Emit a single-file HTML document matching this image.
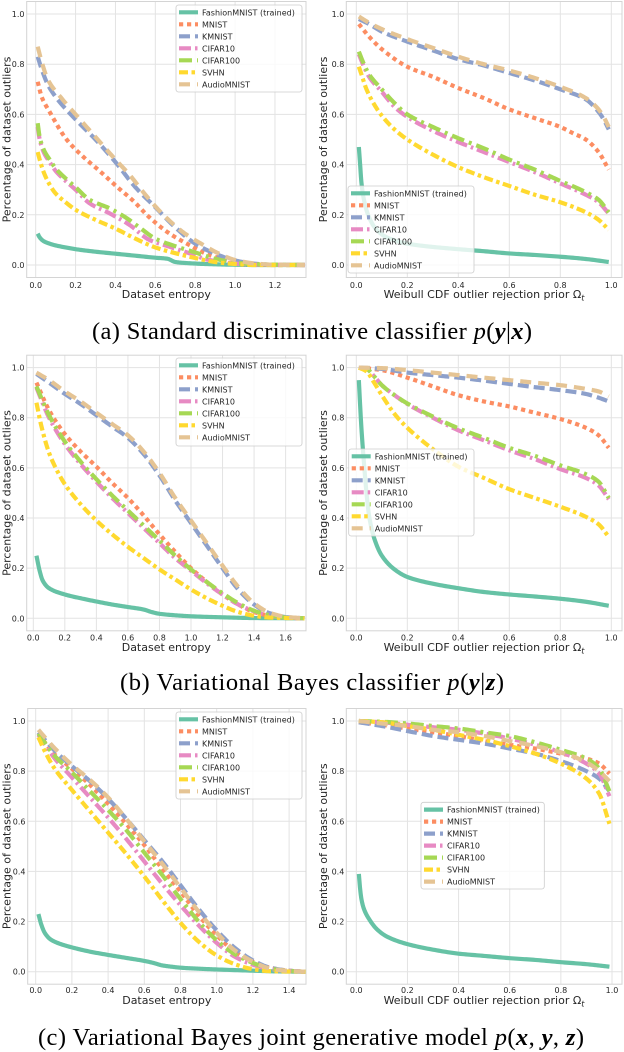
<!DOCTYPE html>
<html><head><meta charset="utf-8">
<style>
html,body{margin:0;padding:0;background:#fff;}
svg{display:block;}
.tk{font-family:"DejaVu Sans","Liberation Sans",sans-serif;font-size:8px;fill:#262626;}
.lb{font-family:"DejaVu Sans","Liberation Sans",sans-serif;font-size:11px;fill:#262626;}
.lg{font-family:"DejaVu Sans","Liberation Sans",sans-serif;font-size:8px;fill:#262626;}
.cap{font-family:"Liberation Serif",serif;font-size:24.5px;fill:#000;}
</style></head>
<body>
<svg id="s" width="624" height="1052" viewBox="0 0 624 1052" xmlns="http://www.w3.org/2000/svg">
<rect x="0" y="0" width="624" height="1052" fill="#fff"/>
<g id="grids" stroke="#e3e3e3" stroke-width="1" fill="none"></g>
<g id="curves"></g>
<g id="legends"></g>

<!-- Panel A left -->
<g class="tk" text-anchor="end">
<text x="24.5" y="17">1.0</text><text x="24.5" y="67.2">0.8</text><text x="24.5" y="117.4">0.6</text><text x="24.5" y="167.6">0.4</text><text x="24.5" y="217.8">0.2</text><text x="24.5" y="268">0.0</text>
</g>
<g class="tk" text-anchor="middle">
<text x="35.7" y="288">0.0</text><text x="75.6" y="288">0.2</text><text x="115.5" y="288">0.4</text><text x="155.3" y="288">0.6</text><text x="195.2" y="288">0.8</text><text x="235.1" y="288">1.0</text><text x="275" y="288">1.2</text>
</g>
<text class="lb" x="166.3" y="298" text-anchor="middle">Dataset entropy</text>
<text class="lb" transform="translate(7,139.5) rotate(-90)" text-anchor="middle" dominant-baseline="central">Percentage of dataset outliers</text>

<!-- Panel A right -->
<g class="tk" text-anchor="end">
<text x="344.3" y="17">1.0</text><text x="344.3" y="67.2">0.8</text><text x="344.3" y="117.4">0.6</text><text x="344.3" y="167.6">0.4</text><text x="344.3" y="217.8">0.2</text><text x="344.3" y="268">0.0</text>
</g>
<g class="tk" text-anchor="middle">
<text x="356.3" y="288">0.0</text><text x="407.3" y="288">0.2</text><text x="458.3" y="288">0.4</text><text x="509.3" y="288">0.6</text><text x="560.3" y="288">0.8</text><text x="611.3" y="288">1.0</text>
</g>
<text class="lb" x="484" y="298" text-anchor="middle">Weibull CDF outlier rejection prior Ω<tspan font-style="italic" font-size="8" dy="2.5">t</tspan></text>
<text class="lb" transform="translate(323.7,139.5) rotate(-90)" text-anchor="middle" dominant-baseline="central">Percentage of dataset outliers</text>

<text class="cap" x="312" y="339" text-anchor="middle" textLength="440" lengthAdjust="spacing">(a) Standard discriminative classifier <tspan font-style="italic">p</tspan>(<tspan font-style="italic" font-weight="bold">y</tspan>|<tspan font-style="italic" font-weight="bold">x</tspan>)</text>

<!-- Panel B left -->
<g class="tk" text-anchor="end">
<text x="24.5" y="370.6">1.0</text><text x="24.5" y="420.7">0.8</text><text x="24.5" y="470.9">0.6</text><text x="24.5" y="521">0.4</text><text x="24.5" y="571.2">0.2</text><text x="24.5" y="621.3">0.0</text>
</g>
<g class="tk" text-anchor="middle">
<text x="33.3" y="640.5">0.0</text><text x="64.8" y="640.5">0.2</text><text x="96.4" y="640.5">0.4</text><text x="127.9" y="640.5">0.6</text><text x="159.5" y="640.5">0.8</text><text x="191" y="640.5">1.0</text><text x="222.5" y="640.5">1.2</text><text x="254.1" y="640.5">1.4</text><text x="285.6" y="640.5">1.6</text>
</g>
<text class="lb" x="166.3" y="651" text-anchor="middle">Dataset entropy</text>
<text class="lb" transform="translate(7,493) rotate(-90)" text-anchor="middle" dominant-baseline="central">Percentage of dataset outliers</text>

<!-- Panel B right -->
<g class="tk" text-anchor="end">
<text x="344.3" y="370.6">1.0</text><text x="344.3" y="420.7">0.8</text><text x="344.3" y="470.9">0.6</text><text x="344.3" y="521">0.4</text><text x="344.3" y="571.2">0.2</text><text x="344.3" y="621.3">0.0</text>
</g>
<g class="tk" text-anchor="middle">
<text x="356.3" y="640.5">0.0</text><text x="407.3" y="640.5">0.2</text><text x="458.3" y="640.5">0.4</text><text x="509.3" y="640.5">0.6</text><text x="560.3" y="640.5">0.8</text><text x="611.3" y="640.5">1.0</text>
</g>
<text class="lb" x="484" y="651" text-anchor="middle">Weibull CDF outlier rejection prior Ω<tspan font-style="italic" font-size="8" dy="2.5">t</tspan></text>
<text class="lb" transform="translate(323.7,493) rotate(-90)" text-anchor="middle" dominant-baseline="central">Percentage of dataset outliers</text>

<text class="cap" x="312" y="690" text-anchor="middle" textLength="384" lengthAdjust="spacing">(b) Variational Bayes classifier <tspan font-style="italic">p</tspan>(<tspan font-style="italic" font-weight="bold">y</tspan>|<tspan font-style="italic" font-weight="bold">z</tspan>)</text>

<!-- Panel C left -->
<g class="tk" text-anchor="end">
<text x="25.5" y="724">1.0</text><text x="25.5" y="774.1">0.8</text><text x="25.5" y="824.3">0.6</text><text x="25.5" y="874.4">0.4</text><text x="25.5" y="924.6">0.2</text><text x="25.5" y="974.7">0.0</text>
</g>
<g class="tk" text-anchor="middle">
<text x="35.7" y="993">0.0</text><text x="71.9" y="993">0.2</text><text x="108.1" y="993">0.4</text><text x="144.3" y="993">0.6</text><text x="180.5" y="993">0.8</text><text x="216.7" y="993">1.0</text><text x="252.9" y="993">1.2</text><text x="289.1" y="993">1.4</text>
</g>
<text class="lb" x="166.8" y="1004" text-anchor="middle">Dataset entropy</text>
<text class="lb" transform="translate(7,846.3) rotate(-90)" text-anchor="middle" dominant-baseline="central">Percentage of dataset outliers</text>

<!-- Panel C right -->
<g class="tk" text-anchor="end">
<text x="344.3" y="724">1.0</text><text x="344.3" y="774.1">0.8</text><text x="344.3" y="824.3">0.6</text><text x="344.3" y="874.4">0.4</text><text x="344.3" y="924.6">0.2</text><text x="344.3" y="974.7">0.0</text>
</g>
<g class="tk" text-anchor="middle">
<text x="356.3" y="993">0.0</text><text x="407.4" y="993">0.2</text><text x="458.6" y="993">0.4</text><text x="509.7" y="993">0.6</text><text x="560.9" y="993">0.8</text><text x="612" y="993">1.0</text>
</g>
<text class="lb" x="484" y="1004" text-anchor="middle">Weibull CDF outlier rejection prior Ω<tspan font-style="italic" font-size="8" dy="2.5">t</tspan></text>
<text class="lb" transform="translate(323.7,846.3) rotate(-90)" text-anchor="middle" dominant-baseline="central">Percentage of dataset outliers</text>

<text class="cap" x="311" y="1045" text-anchor="middle" textLength="546" lengthAdjust="spacing">(c) Variational Bayes joint generative model <tspan font-style="italic">p</tspan>(<tspan font-style="italic" font-weight="bold">x</tspan>, <tspan font-style="italic" font-weight="bold">y</tspan>, <tspan font-style="italic" font-weight="bold">z</tspan>)</text>

<!-- Legends -->
<g class="lg">
<text x="202" y="15.3">FashionMNIST (trained)</text><text x="202" y="27.3">MNIST</text><text x="202" y="39.3">KMNIST</text><text x="202" y="51.3">CIFAR10</text><text x="202" y="63.3">CIFAR100</text><text x="202" y="75.3">SVHN</text><text x="202" y="87.3">AudioMNIST</text>
</g>
<g class="lg">
<text x="374" y="196.3">FashionMNIST (trained)</text><text x="374" y="208.3">MNIST</text><text x="374" y="220.3">KMNIST</text><text x="374" y="232.3">CIFAR10</text><text x="374" y="244.3">CIFAR100</text><text x="374" y="256.3">SVHN</text><text x="374" y="268.3">AudioMNIST</text>
</g>
<g class="lg">
<text x="202" y="368.3">FashionMNIST (trained)</text><text x="202" y="380.3">MNIST</text><text x="202" y="392.3">KMNIST</text><text x="202" y="404.3">CIFAR10</text><text x="202" y="416.3">CIFAR100</text><text x="202" y="428.3">SVHN</text><text x="202" y="440.3">AudioMNIST</text>
</g>
<g class="lg">
<text x="374.7" y="459.3">FashionMNIST (trained)</text><text x="374.7" y="471.3">MNIST</text><text x="374.7" y="483.3">KMNIST</text><text x="374.7" y="495.3">CIFAR10</text><text x="374.7" y="507.3">CIFAR100</text><text x="374.7" y="519.3">SVHN</text><text x="374.7" y="531.3">AudioMNIST</text>
</g>
<g class="lg">
<text x="202" y="722.3">FashionMNIST (trained)</text><text x="202" y="734.3">MNIST</text><text x="202" y="746.3">KMNIST</text><text x="202" y="758.3">CIFAR10</text><text x="202" y="770.3">CIFAR100</text><text x="202" y="782.3">SVHN</text><text x="202" y="794.3">AudioMNIST</text>
</g>
<g class="lg">
<text x="447" y="812.6">FashionMNIST (trained)</text><text x="447" y="824.6">MNIST</text><text x="447" y="836.6">KMNIST</text><text x="447" y="848.6">CIFAR10</text><text x="447" y="860.6">CIFAR100</text><text x="447" y="872.6">SVHN</text><text x="447" y="884.6">AudioMNIST</text>
</g>
</svg>
<script>
(function(){
var NS='http://www.w3.org/2000/svg';
var grids=document.getElementById('grids');
var curves=document.getElementById('curves');
var legends=document.getElementById('legends');
var COL=['#66c2a5','#fc8d62','#8da0cb','#e78ac3','#a6d854','#ffd92f','#e5c494'];
var DASH=[null,'4.2 3.8','11 5','12 4 2.5 4','13 5 3 5','9 3.5 3.5 3.5','11 7'];
var LW=4.2;
function el(tag,attrs,parent){var e=document.createElementNS(NS,tag);for(var k in attrs)e.setAttribute(k,attrs[k]);parent.appendChild(e);return e;}

function mono(xs,ys){
  var n=xs.length,d=[],m=[];
  for(var i=0;i<n-1;i++)d.push((ys[i+1]-ys[i])/(xs[i+1]-xs[i]));
  m[0]=d[0];m[n-1]=d[n-2];
  for(i=1;i<n-1;i++){
    if(d[i-1]*d[i]<=0)m[i]=0;
    else{var h0=xs[i]-xs[i-1],h1=xs[i+1]-xs[i];var w1=2*h1+h0,w2=h1+2*h0;m[i]=(w1+w2)/(w1/d[i-1]+w2/d[i]);}
  }
  if(d[0]===0)m[0]=0; if(d[n-2]===0)m[n-1]=0;
  return function(i,t){var h=xs[i+1]-xs[i];var t2=t*t,t3=t2*t;
    return (2*t3-3*t2+1)*ys[i]+(t3-2*t2+t)*h*m[i]+(-2*t3+3*t2)*ys[i+1]+(t3-t2)*h*m[i+1];};
}

var P=[
 {L:26.7,T:1.5,R:306,B:277.5,x0:35.7,xs:199.4,y0:265,ys:251,xt:[0,0.2,0.4,0.6,0.8,1.0,1.2],leg:[176,5,126,87],
  d:[
   [[0.01,0.125],[0.02,0.11],[0.04,0.095],[0.07,0.085],[0.1,0.078],[0.15,0.07],[0.2,0.063],[0.3,0.053],[0.4,0.045],[0.5,0.037],[0.6,0.029],[0.66,0.025],[0.7,0.012],[0.75,0.008],[0.85,0.004],[1.0,0.001],[1.1,0],[1.35,0]],
   [[0.01,0.73],[0.03,0.67],[0.07,0.61],[0.155,0.50],[0.24,0.43],[0.32,0.375],[0.41,0.31],[0.49,0.255],[0.57,0.19],[0.67,0.126],[0.77,0.08],[0.87,0.04],[0.97,0.018],[1.07,0.005],[1.2,0],[1.35,0]],
   [[0.01,0.83],[0.03,0.78],[0.06,0.72],[0.1,0.67],[0.2,0.58],[0.3,0.50],[0.4,0.41],[0.5,0.31],[0.6,0.23],[0.7,0.15],[0.8,0.085],[0.9,0.045],[1.0,0.018],[1.1,0.005],[1.2,0.001],[1.35,0]],
   [[0.01,0.55],[0.02,0.5],[0.04,0.45],[0.07,0.41],[0.1,0.375],[0.15,0.335],[0.2,0.30],[0.27,0.246],[0.37,0.206],[0.47,0.16],[0.57,0.1],[0.67,0.073],[0.77,0.047],[0.87,0.02],[1.0,0.006],[1.1,0.001],[1.35,0]],
   [[0.01,0.565],[0.02,0.51],[0.04,0.46],[0.07,0.42],[0.1,0.385],[0.15,0.345],[0.2,0.31],[0.27,0.26],[0.37,0.226],[0.45,0.19],[0.52,0.15],[0.6,0.105],[0.7,0.075],[0.8,0.05],[0.9,0.025],[1.0,0.01],[1.1,0.003],[1.35,0]],
   [[0.01,0.45],[0.02,0.42],[0.04,0.37],[0.07,0.32],[0.1,0.285],[0.15,0.25],[0.2,0.22],[0.3,0.18],[0.4,0.145],[0.5,0.105],[0.6,0.07],[0.7,0.047],[0.8,0.028],[0.9,0.012],[1.0,0.004],[1.1,0],[1.35,0]],
   [[0.01,0.87],[0.03,0.81],[0.06,0.74],[0.13,0.664],[0.2,0.60],[0.3,0.51],[0.4,0.42],[0.47,0.36],[0.55,0.28],[0.64,0.20],[0.74,0.13],[0.84,0.08],[0.92,0.045],[1.0,0.02],[1.1,0.006],[1.2,0.001],[1.35,0]]
  ]},
 {L:346.3,T:1.5,R:622,B:277.5,x0:356.3,xs:255,y0:265,ys:251,xt:[0,0.2,0.4,0.6,0.8,1.0],leg:[348,186,126,87],
  d:[
   [[0.01,0.47],[0.015,0.40],[0.02,0.33],[0.03,0.26],[0.05,0.19],[0.08,0.14],[0.12,0.11],[0.2,0.085],[0.3,0.072],[0.4,0.063],[0.5,0.055],[0.6,0.046],[0.7,0.04],[0.8,0.033],[0.9,0.024],[0.99,0.012]],
   [[0.01,0.96],[0.05,0.91],[0.1,0.86],[0.2,0.79],[0.3,0.75],[0.4,0.705],[0.5,0.665],[0.6,0.62],[0.7,0.585],[0.8,0.55],[0.85,0.525],[0.9,0.5],[0.95,0.45],[0.99,0.38]],
   [[0.01,0.98],[0.05,0.96],[0.1,0.93],[0.2,0.89],[0.3,0.855],[0.4,0.82],[0.5,0.795],[0.6,0.765],[0.7,0.735],[0.8,0.70],[0.9,0.66],[0.95,0.61],[0.97,0.58],[0.99,0.54]],
   [[0.01,0.84],[0.03,0.79],[0.05,0.75],[0.1,0.69],[0.15,0.63],[0.2,0.59],[0.3,0.535],[0.4,0.49],[0.5,0.45],[0.6,0.41],[0.7,0.37],[0.8,0.325],[0.9,0.28],[0.95,0.25],[0.99,0.205]],
   [[0.01,0.85],[0.03,0.80],[0.05,0.76],[0.1,0.70],[0.15,0.645],[0.2,0.60],[0.3,0.55],[0.4,0.505],[0.5,0.465],[0.6,0.42],[0.7,0.38],[0.8,0.335],[0.9,0.29],[0.95,0.26],[0.99,0.21]],
   [[0.01,0.79],[0.02,0.76],[0.04,0.70],[0.07,0.64],[0.1,0.595],[0.15,0.54],[0.2,0.50],[0.3,0.44],[0.4,0.39],[0.5,0.35],[0.6,0.315],[0.7,0.28],[0.8,0.25],[0.9,0.21],[0.95,0.18],[0.99,0.14]],
   [[0.01,0.99],[0.05,0.965],[0.1,0.94],[0.2,0.90],[0.3,0.865],[0.4,0.83],[0.5,0.80],[0.6,0.775],[0.7,0.745],[0.8,0.71],[0.9,0.665],[0.95,0.62],[0.97,0.59],[0.99,0.55]]
  ]},
 {L:26.7,T:355.2,R:306,B:630.8,x0:33.3,xs:157.7,y0:618.3,ys:250.7,xt:[0,0.2,0.4,0.6,0.8,1.0,1.2,1.4,1.6],leg:[176,358,126,88],
  d:[
   [[0.02,0.25],[0.04,0.19],[0.06,0.15],[0.1,0.12],[0.2,0.095],[0.3,0.08],[0.4,0.067],[0.5,0.055],[0.6,0.045],[0.7,0.035],[0.75,0.025],[0.8,0.018],[0.9,0.012],[1.0,0.008],[1.2,0.004],[1.4,0.001],[1.72,0]],
   [[0.02,0.94],[0.1,0.83],[0.2,0.735],[0.3,0.665],[0.4,0.605],[0.5,0.54],[0.6,0.48],[0.7,0.41],[0.8,0.335],[0.9,0.265],[1.0,0.2],[1.1,0.145],[1.2,0.095],[1.3,0.055],[1.4,0.025],[1.5,0.01],[1.6,0.003],[1.72,0]],
   [[0.02,0.975],[0.1,0.94],[0.2,0.895],[0.3,0.855],[0.4,0.81],[0.5,0.765],[0.6,0.72],[0.7,0.655],[0.8,0.57],[0.9,0.47],[1.0,0.38],[1.1,0.29],[1.2,0.2],[1.3,0.115],[1.4,0.055],[1.5,0.02],[1.6,0.005],[1.72,0]],
   [[0.02,0.92],[0.1,0.8],[0.2,0.695],[0.3,0.615],[0.4,0.545],[0.5,0.48],[0.6,0.42],[0.7,0.36],[0.8,0.3],[0.9,0.24],[1.0,0.19],[1.1,0.14],[1.2,0.095],[1.3,0.055],[1.4,0.028],[1.5,0.01],[1.6,0.002],[1.72,0]],
   [[0.02,0.925],[0.1,0.81],[0.2,0.705],[0.3,0.625],[0.4,0.555],[0.5,0.49],[0.6,0.43],[0.7,0.37],[0.8,0.31],[0.9,0.25],[1.0,0.195],[1.1,0.145],[1.2,0.1],[1.3,0.06],[1.4,0.03],[1.5,0.012],[1.6,0.003],[1.72,0]],
   [[0.02,0.86],[0.05,0.77],[0.1,0.66],[0.15,0.59],[0.2,0.535],[0.3,0.455],[0.4,0.39],[0.5,0.335],[0.6,0.285],[0.7,0.24],[0.8,0.195],[0.9,0.155],[1.0,0.115],[1.1,0.08],[1.2,0.05],[1.3,0.025],[1.4,0.01],[1.5,0.003],[1.72,0]],
   [[0.02,0.98],[0.1,0.95],[0.2,0.905],[0.3,0.865],[0.4,0.82],[0.5,0.775],[0.6,0.73],[0.7,0.665],[0.8,0.58],[0.9,0.48],[1.0,0.39],[1.1,0.3],[1.2,0.21],[1.3,0.125],[1.4,0.06],[1.5,0.022],[1.6,0.006],[1.72,0]]
  ]},
 {L:346.3,T:355.2,R:622,B:630.8,x0:356.3,xs:255,y0:618.3,ys:250.7,xt:[0,0.2,0.4,0.6,0.8,1.0],leg:[348.7,449,125.3,87],
  d:[
   [[0.01,0.95],[0.015,0.85],[0.02,0.76],[0.03,0.62],[0.04,0.5],[0.05,0.41],[0.07,0.32],[0.1,0.25],[0.15,0.195],[0.2,0.165],[0.3,0.138],[0.4,0.12],[0.5,0.105],[0.6,0.095],[0.7,0.087],[0.8,0.078],[0.9,0.066],[0.99,0.05]],
   [[0.01,1.0],[0.1,0.99],[0.2,0.96],[0.3,0.925],[0.4,0.89],[0.5,0.865],[0.6,0.845],[0.7,0.82],[0.8,0.795],[0.9,0.76],[0.95,0.73],[0.99,0.68]],
   [[0.01,1.0],[0.1,0.995],[0.2,0.98],[0.3,0.97],[0.4,0.96],[0.5,0.948],[0.6,0.935],[0.7,0.922],[0.8,0.91],[0.9,0.895],[0.95,0.88],[0.99,0.865]],
   [[0.01,1.0],[0.04,0.995],[0.07,0.965],[0.1,0.93],[0.15,0.89],[0.2,0.855],[0.3,0.8],[0.4,0.75],[0.5,0.71],[0.6,0.67],[0.7,0.635],[0.8,0.595],[0.9,0.56],[0.95,0.53],[0.99,0.475]],
   [[0.01,1.0],[0.04,0.995],[0.07,0.965],[0.1,0.93],[0.15,0.89],[0.2,0.857],[0.3,0.805],[0.4,0.758],[0.5,0.72],[0.6,0.68],[0.7,0.648],[0.8,0.61],[0.9,0.575],[0.95,0.545],[0.99,0.48]],
   [[0.01,1.0],[0.04,0.985],[0.07,0.94],[0.1,0.89],[0.15,0.815],[0.2,0.76],[0.3,0.675],[0.4,0.605],[0.5,0.56],[0.6,0.515],[0.7,0.48],[0.8,0.445],[0.9,0.405],[0.95,0.375],[0.99,0.325]],
   [[0.01,1.0],[0.1,0.998],[0.2,0.99],[0.3,0.98],[0.4,0.97],[0.5,0.96],[0.6,0.95],[0.7,0.94],[0.8,0.93],[0.9,0.915],[0.95,0.905],[0.99,0.885]]
  ]},
 {L:27.7,T:708.5,R:306,B:984.2,x0:35.7,xs:181,y0:971.7,ys:250.7,xt:[0,0.2,0.4,0.6,0.8,1.0,1.2,1.4],leg:[176,712,126,87],
  d:[
   [[0.015,0.23],[0.03,0.19],[0.05,0.155],[0.08,0.13],[0.12,0.115],[0.2,0.097],[0.3,0.08],[0.4,0.067],[0.5,0.055],[0.6,0.043],[0.65,0.035],[0.7,0.025],[0.75,0.02],[0.8,0.016],[0.9,0.012],[1.0,0.009],[1.2,0.004],[1.35,0.001],[1.49,0]],
   [[0.015,0.95],[0.1,0.87],[0.2,0.81],[0.3,0.745],[0.4,0.67],[0.5,0.59],[0.6,0.505],[0.7,0.41],[0.8,0.32],[0.9,0.225],[1.0,0.145],[1.1,0.08],[1.2,0.04],[1.3,0.015],[1.4,0.004],[1.49,0]],
   [[0.015,0.955],[0.1,0.885],[0.2,0.82],[0.3,0.76],[0.4,0.69],[0.5,0.61],[0.6,0.525],[0.7,0.44],[0.8,0.345],[0.9,0.25],[1.0,0.165],[1.1,0.095],[1.2,0.045],[1.3,0.015],[1.4,0.004],[1.49,0]],
   [[0.015,0.945],[0.1,0.855],[0.2,0.775],[0.3,0.695],[0.4,0.615],[0.5,0.53],[0.6,0.44],[0.7,0.35],[0.8,0.265],[0.9,0.185],[1.0,0.115],[1.1,0.06],[1.2,0.028],[1.3,0.01],[1.4,0.002],[1.49,0]],
   [[0.015,0.95],[0.1,0.865],[0.2,0.795],[0.3,0.72],[0.4,0.645],[0.5,0.565],[0.6,0.475],[0.7,0.385],[0.8,0.29],[0.9,0.2],[1.0,0.125],[1.1,0.07],[1.2,0.035],[1.3,0.012],[1.4,0.003],[1.49,0]],
   [[0.015,0.935],[0.05,0.88],[0.1,0.815],[0.2,0.725],[0.3,0.64],[0.4,0.555],[0.5,0.47],[0.6,0.38],[0.7,0.285],[0.8,0.195],[0.9,0.12],[1.0,0.065],[1.1,0.03],[1.2,0.01],[1.3,0.002],[1.49,0]],
   [[0.015,0.965],[0.1,0.895],[0.2,0.825],[0.3,0.765],[0.4,0.695],[0.5,0.61],[0.6,0.52],[0.7,0.43],[0.8,0.335],[0.9,0.24],[1.0,0.155],[1.1,0.085],[1.2,0.04],[1.3,0.012],[1.4,0.003],[1.49,0]]
  ]},
 {L:346.3,T:708.5,R:622,B:984.2,x0:356.3,xs:255.7,y0:971.7,ys:250.7,xt:[0,0.2,0.4,0.6,0.8,1.0],leg:[421,802.3,123.3,86.7],
  d:[
   [[0.01,0.39],[0.015,0.33],[0.02,0.29],[0.03,0.25],[0.05,0.21],[0.08,0.17],[0.12,0.14],[0.2,0.11],[0.3,0.088],[0.4,0.072],[0.5,0.063],[0.6,0.054],[0.7,0.047],[0.8,0.038],[0.9,0.03],[0.99,0.02]],
   [[0.01,0.995],[0.1,0.985],[0.2,0.97],[0.3,0.955],[0.4,0.94],[0.5,0.92],[0.6,0.905],[0.7,0.89],[0.8,0.87],[0.9,0.85],[0.95,0.83],[0.99,0.79]],
   [[0.01,0.995],[0.1,0.98],[0.2,0.96],[0.3,0.94],[0.4,0.925],[0.5,0.91],[0.6,0.89],[0.7,0.87],[0.8,0.84],[0.9,0.8],[0.95,0.77],[0.99,0.72]],
   [[0.01,1.0],[0.1,0.995],[0.2,0.985],[0.3,0.975],[0.4,0.965],[0.5,0.95],[0.6,0.93],[0.7,0.905],[0.8,0.875],[0.9,0.83],[0.95,0.79],[0.99,0.7]],
   [[0.01,1.0],[0.1,0.997],[0.2,0.99],[0.3,0.98],[0.4,0.97],[0.5,0.955],[0.6,0.94],[0.7,0.915],[0.8,0.885],[0.9,0.85],[0.95,0.81],[0.99,0.72]],
   [[0.01,1.0],[0.1,0.995],[0.2,0.98],[0.3,0.965],[0.4,0.945],[0.5,0.925],[0.6,0.9],[0.7,0.87],[0.8,0.83],[0.9,0.77],[0.95,0.71],[0.99,0.59]],
   [[0.01,1.0],[0.1,0.99],[0.2,0.98],[0.3,0.965],[0.4,0.955],[0.5,0.94],[0.6,0.92],[0.7,0.9],[0.8,0.875],[0.9,0.835],[0.95,0.8],[0.99,0.76]]
  ]}
];

var defs=el('defs',{},document.getElementById('s'));
P.forEach(function(p,pi){
  var yt=[0,0.2,0.4,0.6,0.8,1.0];
  yt.forEach(function(v){var y=p.y0-v*p.ys;el('line',{x1:p.L,x2:p.R,y1:y,y2:y},grids);});
  p.xt.forEach(function(v){var x=p.x0+v*p.xs;el('line',{x1:x,x2:x,y1:p.T,y2:p.B},grids);});
  el('rect',{x:p.L,y:p.T,width:p.R-p.L,height:p.B-p.T,stroke:'#d4d4d4','stroke-width':1,fill:'none'},grids);
  var cp=el('clipPath',{id:'c'+pi},defs);
  el('rect',{x:p.L,y:p.T,width:p.R-p.L,height:p.B-p.T},cp);
  var g=el('g',{'clip-path':'url(#c'+pi+')'},curves);
  p.d.forEach(function(pts,ci){
    var xs=pts.map(function(q){return q[0];}),ys=pts.map(function(q){return q[1];});
    var f=mono(xs,ys);var out=[];
    for(var i=0;i<xs.length-1;i++){
      var N=14;
      for(var k=0;k<N;k++){var t=k/N;var x=xs[i]+t*(xs[i+1]-xs[i]);out.push([p.x0+x*p.xs,p.y0-f(i,t)*p.ys]);}
    }
    out.push([p.x0+xs[xs.length-1]*p.xs,p.y0-ys[ys.length-1]*p.ys]);
    var dstr='M'+out.map(function(q){return q[0].toFixed(2)+','+q[1].toFixed(2);}).join('L');
    var a={d:dstr,fill:'none',stroke:COL[ci],'stroke-width':LW,'stroke-linejoin':'round','stroke-linecap':'butt'};
    if(DASH[ci])a['stroke-dasharray']=DASH[ci];
    el('path',a,g);
  });
  var L=p.leg;
  el('rect',{x:L[0],y:L[1],width:L[2],height:L[3],rx:2.5,ry:2.5,fill:'#ffffff','fill-opacity':0.8,stroke:'#cccccc','stroke-width':0.8},legends);
  for(var r=0;r<7;r++){
    var yy=L[1]+7.3+12*r;
    var a2={x1:L[0]+3,x2:L[0]+22,y1:yy,y2:yy,stroke:COL[r],'stroke-width':LW,'stroke-linecap':'butt'};
    if(DASH[r])a2['stroke-dasharray']=DASH[r];
    el('line',a2,legends);
  }
});
})();
</script>
</body></html>
